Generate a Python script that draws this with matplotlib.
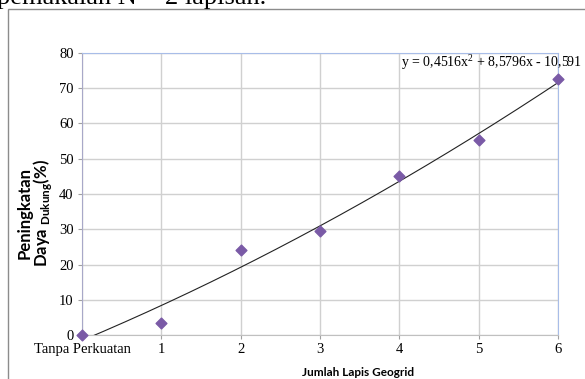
import matplotlib.pyplot as plt
import numpy as np

# Jumlah lapis geogrid vs peningkatan daya dukung
kategori = ["Tanpa Perkuatan", "1", "2", "3", "4", "5", "6"]
peningkatan = [0.0, 3.5, 24.2, 29.5, 45.0, 55.3, 72.5]
koef = [0.4516, 8.5796, -10.591]  # trendline polinomial orde 2 (x = 1..7)

fig = plt.figure(figsize=(5.85, 3.79), dpi=100)

# bagian bawah kalimat sebelumnya yang terpotong
fig.text(-0.005, 1.0 - 4 / 379, "pemakaian N = 2 lapisan.", family="Liberation Serif",
         fontsize=19, va="baseline", ha="left")

# bingkai chart
frame = plt.Rectangle((7.5 / 585, -0.1), 1.2, 1.0 - 9 / 379 + 0.1, transform=fig.transFigure,
                      fill=False, edgecolor="#8c8c8c", linewidth=1.0)
fig.patches.append(frame)

ax = fig.add_axes([82 / 585, 1 - 335 / 379, (558 - 82) / 585, (335 - 53) / 379])
xpos = np.arange(len(kategori))
ax.set_xlim(0, 6)
ax.set_ylim(0, 80)
ax.set_yticks(np.arange(0, 81, 10))
ax.set_xticks(xpos)
ax.set_xticklabels(kategori, family="Liberation Serif", fontsize=10.5)
for lab in ax.get_yticklabels():
    lab.set_family("Liberation Serif")
    lab.set_fontsize(10.5)
ax.grid(True, color="#d0d0d0", linewidth=1.0)
ax.set_axisbelow(True)
ax.tick_params(axis="both", length=3, width=0.8, colors="#a0a0a0", labelcolor="black", pad=3)

for s in ["top", "right"]:
    ax.spines[s].set_color("#a8bde8")
ax.spines["left"].set_color("#a8a8c8")
ax.spines["bottom"].set_color("#c0c0c0")

# garis trend
xs = np.linspace(0, 6, 200)
ys = np.polyval(koef, xs + 1)
ax.plot(xs, ys, color="#222222", linewidth=0.8, zorder=3)
ax.scatter(xpos, peningkatan, marker="D", s=30, color="#7a5aa6", zorder=4, clip_on=False)

fig.text(582 / 585, 1 - 62 / 379, r"y = 0,4516x$^{\mathregular{2}}$ + 8,5796x - 10,591",
         family="Liberation Serif", fontsize=10, ha="right", va="center")

fig.text(358 / 585, 1 - 372 / 379, "Jumlah Lapis Geogrid", family="Lato",
         fontweight="bold", fontsize=8.5, ha="center", va="center")

fig.text(25 / 585, 1 - 213 / 379, "Peningkatan", family="Lato", fontweight="bold",
         fontsize=12, rotation=90, ha="center", va="center")
fig.text(43 / 585, 1 - 213 / 379, r"Daya $_{\mathregular{Dukung}}$(%)", family="Lato",
         fontweight="bold", fontsize=12, rotation=90, ha="center", va="center")

fig.savefig("out.png", dpi=100)
